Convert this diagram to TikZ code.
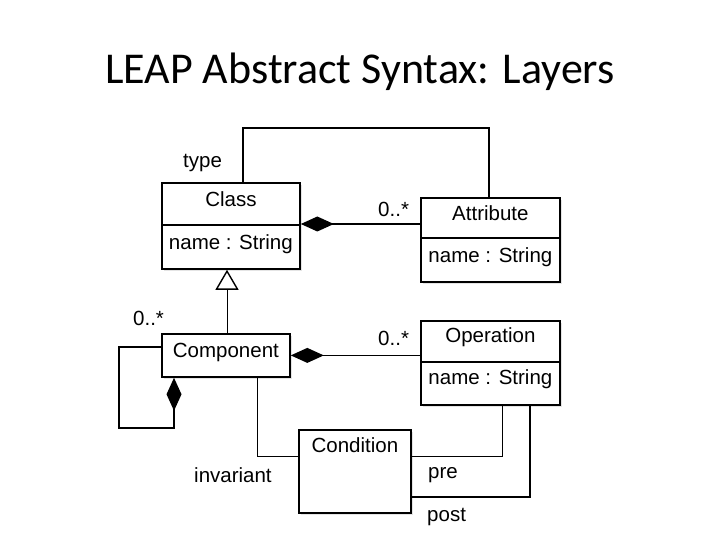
\documentclass[tikz,border=0pt]{standalone}
\usepackage{fontspec}
\setmainfont{Liberation Sans}
\newfontfamily\titlefont{Carlito}
\usetikzlibrary{arrows.meta,shadows}

\begin{document}
\begin{tikzpicture}[x=1pt,y=-1pt,line join=miter,
		font=\fontsize{20.5}{24}\selectfont,
		umlpart/.style={draw,line width=1.8pt,fill=white,inner sep=0pt,minimum width=138pt,
			drop shadow={shadow xshift=2pt,shadow yshift=-2pt,fill=gray!35,opacity=0.6}},
		link/.style={line width=1.6pt},
		thinlink/.style={line width=1pt},
		compo/.style={{Diamond[length=33pt,width=15pt]}-},
		gen/.style={-{Triangle[open,length=20pt,width=23pt,line width=1.4pt,fill=white]}},
		lbl/.style={anchor=base west,inner sep=0pt}]
	\useasboundingbox (0,0) rectangle (720,540);
	
	\node[anchor=base] (title) at (360,84) {\titlefont\fontsize{44}{50}\selectfont LEAP Abstract Syntax: Layers};
	
	% class boxes
	\node[umlpart,anchor=north west,text height=24pt,text depth=18pt] (clshead) at (161,182) {Class};
	\node[umlpart,anchor=north west,text height=25pt,text depth=19pt] (clsattr) at (161,224) {name : String};
	
	\node[umlpart,anchor=north west,text height=23pt,text depth=17pt,minimum width=139pt] (atthead) at (420,197) {Attribute};
	\node[umlpart,anchor=north west,text height=25pt,text depth=19pt,minimum width=139pt] (attattr) at (420,237) {name : String};
	
	\node[umlpart,anchor=north west,text height=22pt,text depth=19pt,minimum width=139pt] (ophead) at (420,320) {Operation};
	\node[umlpart,anchor=north west,text height=23pt,text depth=20pt,minimum width=139pt] (opattr) at (420,361) {name : String};
	
	\node[umlpart,anchor=north west,text height=24pt,text depth=19pt,minimum width=128pt] (comp) at (161,333) {Component};
	
	\node[umlpart,anchor=north west,text height=23pt,text depth=60pt,minimum width=112pt] (cond) at (298,429) {Condition};
	
	% bends
	\coordinate (typeL) at (243,128);
	\coordinate (typeR) at (489,128);
	\coordinate (genX) at (227,300);
	\coordinate (loopA) at (119,347);
	\coordinate (loopB) at (119,428);
	\coordinate (loopC) at (174,428);
	\coordinate (invA) at (257,456);
	\coordinate (preA) at (502,456);
	\coordinate (postA) at (530,497);
	
	% connectors
	\draw[link] (clshead.north -| typeL) -- (typeL) -- (typeR) -- (atthead.north -| typeR);
	\draw[link,compo] (clsattr.north east) -- (clsattr.north east -| atthead.west);
	\draw[link,compo] (comp.east) -- (comp.east -| ophead.west);
	\draw[thinlink,gen] (comp.north -| genX) -- (clsattr.south -| genX);
	\draw[link,compo] (comp.south -| loopC) -- (loopC) -- (loopB) -- (loopA) -- (comp.west |- loopA);
	\draw[thinlink] (comp.south -| invA) -- (invA) -- (cond.west |- invA);
	\draw[thinlink] (opattr.south -| preA) -- (preA) -- (cond.east |- preA);
	\draw[link] (opattr.south -| postA) -- (postA) -- (cond.east |- postA);
	
	% role names and multiplicities
	\node[lbl] (ltype) at (183,168) {type};
	\node[lbl] (lattmul) at (378,217) {0..*};
	\node[lbl] (lopmul) at (378,345) {0..*};
	\node[lbl] (lcompmul) at (133,325) {0..*};
	\node[lbl] (linv) at (194,482) {invariant};
	\node[lbl] (lpre) at (428,478) {pre};
	\node[lbl] (lpost) at (427,521) {post};
\end{tikzpicture}
\end{document}
